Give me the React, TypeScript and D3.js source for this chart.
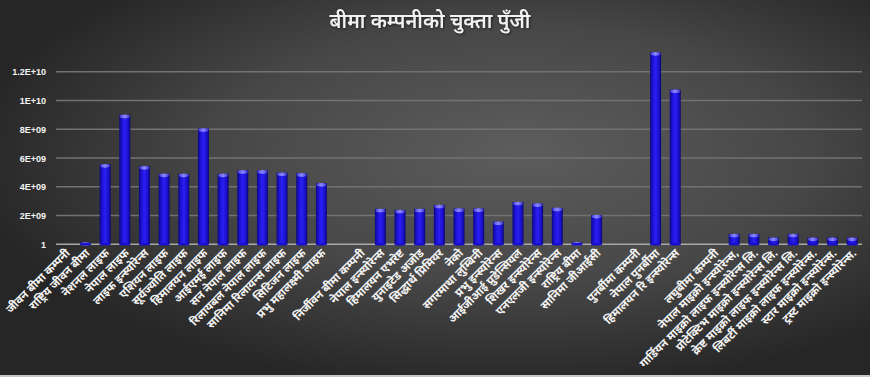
import React from "react";
import * as d3 from "d3";

const categories: string[] = [
  "जीवन बीमा कम्पनी",
  "राष्ट्रिय जीवन बीमा",
  "नेशनल लाइफ",
  "नेपाल लाइफ",
  "लाइफ इन्स्योरेन्स",
  "एशियन लाइफ",
  "सूर्यज्योति लाइफ",
  "हिमालयन लाइफ",
  "आईएमई लाइफ",
  "सन नेपाल लाइफ",
  "रिलायबल नेपाल लाइफ",
  "सानिमा रिलायन्स लाइफ",
  "सिटिजन लाइफ",
  "प्रभु महालक्ष्मी लाइफ",
  "",
  "निर्जीवन बीमा कम्पनी",
  "नेपाल इन्स्योरेन्स",
  "हिमालयन एभरेष्ट",
  "युनाइटेड अजोड",
  "सिद्धार्थ प्रिमियर",
  "नेको",
  "सगरमाथा लुम्बिनी",
  "प्रभु इन्स्योरेन्स",
  "आईजीआई प्रुडेन्सियल",
  "शिखर इन्स्योरेन्स",
  "एनएलजी इन्स्योरेन्स",
  "राष्ट्रिय बीमा",
  "सानिमा जीआईसी",
  "",
  "पुनर्बीमा कम्पनी",
  "नेपाल पुनर्बीमा",
  "हिमालयन रि इन्स्योरेन्स",
  "",
  "लघुबीमा कम्पनी",
  "नेपाल माइक्रो इन्स्योरेन्स,",
  "गार्डियन माइक्रो लाइफ इन्स्योरेन्स लि.",
  "प्रोटेक्टिभ माइक्रो इन्स्योरेन्स लि.",
  "क्रेष्ट माइक्रो लाइफ इन्स्योरेन्स लि.",
  "लिबर्टी माइक्रो लाइफ इन्स्योरेन्स.",
  "स्टार माइक्रो इन्स्योरेन्स.",
  "ट्रस्ट माइक्रो इन्स्योरेन्स.",
];

const paidUpCapital: (number | null)[] = [
  null,
  1.2e8,
  5.56e9,
  9.0e9,
  5.42e9,
  4.9e9,
  4.9e9,
  8.05e9,
  4.9e9,
  5.14e9,
  5.14e9,
  4.98e9,
  4.93e9,
  4.24e9,
  null,
  null,
  2.46e9,
  2.39e9,
  2.46e9,
  2.73e9,
  2.48e9,
  2.48e9,
  1.57e9,
  2.94e9,
  2.83e9,
  2.53e9,
  1.4e8,
  2.03e9,
  null,
  null,
  1.335e10,
  1.075e10,
  null,
  null,
  7.2e8,
  7.2e8,
  4.6e8,
  7.2e8,
  4.6e8,
  4.6e8,
  4.6e8,
];

const tickValues: number[] = [0, 2e9, 4e9, 6e9, 8e9, 1e10, 1.2e10];
const tickLabels: string[] = ["1", "2E+09", "4E+09", "6E+09", "8E+09", "1E+10", "1.2E+10"];
const title = "बीमा कम्पनीको चुक्ता पुँजी";

const W = 870;
const H = 377;

export default function App() {
  const idx = categories.map((_, i) => String(i));
  const x = d3.scaleBand<string>().domain(idx).range([56, 862]).paddingInner(0.44).paddingOuter(0.22);
  const y = d3.scaleLinear().domain([0, 1.4e10]).range([244.3, 43]);
  const bw = x.bandwidth();
  const devFont = "'Noto Sans Devanagari', 'Noto Sans', sans-serif";
  const numFont = "'Liberation Sans Narrow', 'Liberation Sans', Arial, sans-serif";

  return (
    <svg
      width={W}
      height={H}
      style={{ position: "absolute", left: 0, top: 0, display: "block" }}
    >
      <defs>
        <radialGradient id="bg" cx="0.58" cy="0.42" r="0.62" fx="0.6" fy="0.4">
          <stop offset="0%" stopColor="#5d5d5d" />
          <stop offset="55%" stopColor="#474747" />
          <stop offset="100%" stopColor="#262626" />
        </radialGradient>
        <linearGradient id="barG" x1="0" x2="1" y1="0" y2="0">
          <stop offset="0%" stopColor="#0c0880" />
          <stop offset="25%" stopColor="#1d12d6" />
          <stop offset="50%" stopColor="#2a1ff2" />
          <stop offset="80%" stopColor="#1a10cc" />
          <stop offset="100%" stopColor="#0a0670" />
        </linearGradient>
        <linearGradient id="capG" x1="0" x2="1" y1="0" y2="0">
          <stop offset="0%" stopColor="#4b45e0" />
          <stop offset="50%" stopColor="#8c88ff" />
          <stop offset="100%" stopColor="#4038d0" />
        </linearGradient>
      </defs>
      <rect x={0} y={0} width={W} height={H} fill="url(#bg)" />
      <rect x={0} y={H - 2} width={W} height={2} fill="#c8c8c8" />

      <text
        x={430}
        y={28}
        textAnchor="middle"
        fill="#f2f2f2"
        fontFamily={devFont}
        fontWeight={600}
        fontSize={20}
        style={{ filter: "drop-shadow(1px 1px 1px rgba(0,0,0,0.5))" }}
      >
        {title}
      </text>

      {tickValues.map((t, i) => (
        <g key={"t" + i}>
          <line
            x1={56}
            x2={862}
            y1={y(t)}
            y2={y(t)}
            stroke={i === 0 ? "#a8a8a8" : "#727272"}
            strokeWidth={1.5}
          />
          <text
            x={46}
            y={y(t) + 3.5}
            textAnchor="end"
            fill="#f4f4f4"
            fontFamily={numFont}
            fontWeight="bold"
            fontSize={9}
          >
            {tickLabels[i]}
          </text>
        </g>
      ))}

      {paidUpCapital.map((v, i) => {
        if (v === null) return null;
        const bx = x(String(i)) as number;
        const top = y(v);
        const h = y(0) - top;
        return (
          <g key={"b" + i}>
            <rect x={bx} y={top} width={bw} height={h} fill="url(#barG)" />
            <ellipse cx={bx + bw / 2} cy={top + 1.5} rx={bw / 2 - 0.5} ry={1.8} fill="url(#capG)" />
            <ellipse cx={bx + bw / 2} cy={y(0)} rx={bw / 2} ry={1.2} fill="#1a10cc" />
          </g>
        );
      })}

      {categories.map((c, i) => {
        const cx = (x(String(i)) as number) + bw / 2 + 2;
        const cy = 251;
        return (
          <text
            key={"l" + i}
            transform={`translate(${cx},${cy}) rotate(-45)`}
            textAnchor="end"
            fill="#f4f4f4"
            fontFamily={devFont}
            fontWeight="bold"
            fontSize={11.5}
            dy="0.35em"
          >
            {c}
          </text>
        );
      })}
    </svg>
  );
}
